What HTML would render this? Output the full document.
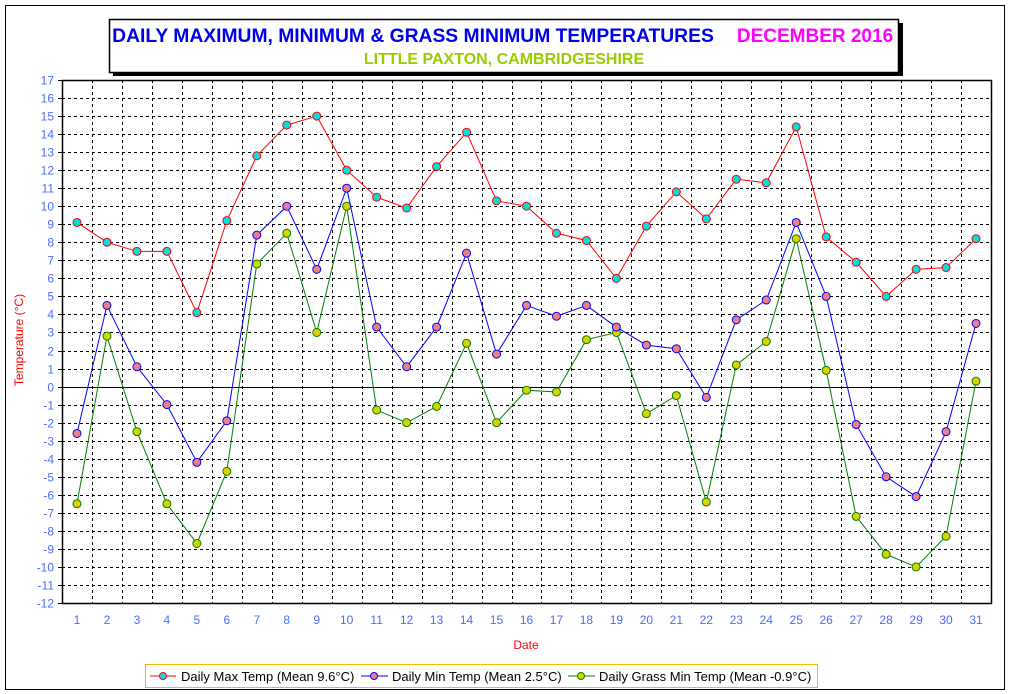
<!DOCTYPE html>
<html><head><meta charset="utf-8"><style>
body{margin:0;background:#fff;}
svg{display:block;font-family:"Liberation Sans",Arial,sans-serif;}
</style></head><body>
<svg id="chart" width="1010" height="694" viewBox="0 0 1010 694">
<rect x="5.5" y="5.5" width="999" height="684" fill="#fff" stroke="#000" stroke-width="1"/>
<rect x="113" y="23" width="790" height="53" fill="#000"/>
<rect x="109.5" y="19.5" width="789" height="53" fill="#fff" stroke="#000" stroke-width="1.5"/>
<text x="413" y="42" font-size="19.3" font-weight="bold" fill="#0000ee" text-anchor="middle">DAILY MAXIMUM, MINIMUM &amp; GRASS MINIMUM TEMPERATURES</text>
<text x="815" y="42" font-size="19" font-weight="bold" fill="#ff00ff" text-anchor="middle">DECEMBER 2016</text>
<text x="504" y="64" font-size="16" font-weight="bold" fill="#99cc00" text-anchor="middle">LITTLE PAXTON, CAMBRIDGESHIRE</text>
<g id="grid"></g>
<g id="axes"></g>
<g id="series"></g>
<text x="0" y="0" transform="translate(23,340) rotate(-90)" font-size="12" fill="#ff0000" text-anchor="middle">Temperature (°C)</text>
<text x="526" y="649" font-size="12" fill="#ff0000" text-anchor="middle">Date</text>
<g>
<rect x="145.5" y="664.5" width="672" height="23" fill="#fff" stroke="#f0c000" stroke-width="1"/>
<g>
<line x1="150" y1="676" x2="176" y2="676" stroke="#ff0000"/><circle cx="163" cy="676" r="3.5" fill="#00e0e0" stroke="#ff0000"/>
<text x="181" y="681" font-size="13" fill="#000">Daily Max Temp (Mean 9.6°C)</text></g>
<g>
<line x1="361" y1="676" x2="388" y2="676" stroke="#0000ff"/><circle cx="374" cy="676" r="3.5" fill="#f08080" stroke="#0000ff"/>
<text x="392" y="681" font-size="13" fill="#000">Daily Min Temp (Mean 2.5°C)</text></g>
<g>
<line x1="568" y1="676" x2="595" y2="676" stroke="#008000"/><circle cx="581" cy="676" r="3.5" fill="#e0d000" stroke="#008000"/>
<text x="599" y="681" font-size="13" fill="#000">Daily Grass Min Temp (Mean -0.9°C)</text></g>
</g>
</svg>
<script>
const days = [1,2,3,4,5,6,7,8,9,10,11,12,13,14,15,16,17,18,19,20,21,22,23,24,25,26,27,28,29,30,31];
const maxTemp = [9.1,8.0,7.5,7.5,4.1,9.2,12.8,14.5,15.0,12.0,10.5,9.9,12.2,14.1,10.3,10.0,8.5,8.1,6.0,8.9,10.8,9.3,11.5,11.3,14.4,8.3,6.9,5.0,6.5,6.6,8.2];
const minTemp = [-2.6,4.5,1.1,-1.0,-4.2,-1.9,8.4,10.0,6.5,11.0,3.3,1.1,3.3,7.4,1.8,4.5,3.9,4.5,3.3,2.3,2.1,-0.6,3.7,4.8,9.1,5.0,-2.1,-5.0,-6.1,-2.5,3.5];
const grassMin = [-6.5,2.8,-2.5,-6.5,-8.7,-4.7,6.8,8.5,3.0,10.0,-1.3,-2.0,-1.1,2.4,-2.0,-0.2,-0.3,2.6,3.0,-1.5,-0.5,-6.4,1.2,2.5,8.2,0.9,-7.2,-9.3,-10.0,-8.3,0.3];
const yTicks = [17,16,15,14,13,12,11,10,9,8,7,6,5,4,3,2,1,0,-1,-2,-3,-4,-5,-6,-7,-8,-9,-10,-11,-12];

const L=62,R=991,T=80,B=603,yMin=-12,yMax=17;
function xs(d){return L+(d-0.5)/31*(R-L);}
function ys(v){return B-(v-yMin)/(yMax-yMin)*(B-T);}
const NS="http://www.w3.org/2000/svg";
function mk(tag,attrs,parent){const e=document.createElementNS(NS,tag);for(const k in attrs)e.setAttribute(k,attrs[k]);parent.appendChild(e);return e;}
const grid=document.getElementById('grid'),axes=document.getElementById('axes'),series=document.getElementById('series');

for(const t of yTicks){
  const y=Math.round(ys(t))+0.5;
  if(t!==yMin&&t!==yMax&&t!==0){
    const gl=mk('line',{x1:L,x2:R,y1:y,y2:y,stroke:'#000','stroke-dasharray':'3,3'},grid);
    
    
  }
  mk('line',{x1:L-4,x2:L,y1:y,y2:y,stroke:'#000'},axes);
  const tl=mk('text',{x:L-8,y:y+4,'font-size':12,fill:'#4a6cff','text-anchor':'end'},axes);
  tl.textContent=t;
  
  
}
for(let i=1;i<days.length;i++){
  const x=Math.round((xs(days[i-1])+xs(days[i]))/2)+0.5;
  const gl=mk('line',{x1:x,x2:x,y1:T,y2:B,stroke:'#000','stroke-dasharray':'3,3'},grid);
  
  
}
for(const d of days){
  const tl=mk('text',{x:xs(d),y:B+21,'font-size':12,fill:'#4a6cff','text-anchor':'middle'},axes);
  tl.textContent=d;
  
  
}
const zl=mk('line',{x1:L,x2:R,y1:Math.round(ys(0))+0.5,y2:Math.round(ys(0))+0.5,stroke:'#000'},axes);


const pa=mk('rect',{x:L+0.5,y:T+0.5,width:R-L,height:B-T,fill:'none',stroke:'#000','stroke-width':1.5},axes);



function drawSeries(vals,line,fill,name){
  const g=mk('g',{},series);
  
  
  const pl=mk('polyline',{points:vals.map((v,i)=>xs(days[i])+','+ys(v)).join(' '),fill:'none',stroke:line,'stroke-width':1},g);
  
  
  vals.forEach((v,i)=>{
    const c=mk('circle',{cx:xs(days[i]),cy:ys(v),r:4,fill:fill,stroke:line,'stroke-width':1},g);
    
    
  });
}
drawSeries(grassMin,'#008000','#e0d000','grass-min-series');
drawSeries(minTemp,'#0000ff','#f08080','min-temp-series');
drawSeries(maxTemp,'#ff0000','#00e0e0','max-temp-series');
</script>
</body></html>
